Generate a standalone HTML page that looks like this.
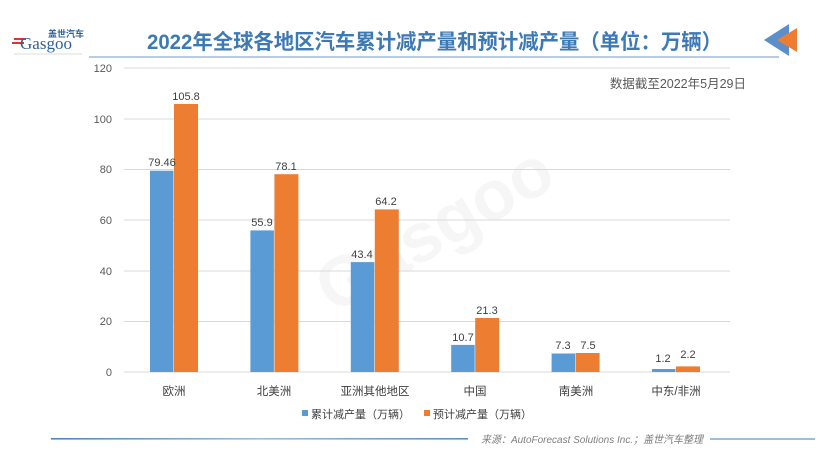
<!DOCTYPE html>
<html><head><meta charset="utf-8"><style>
body{margin:0;background:#fff;}
svg{display:block;font-family:"Liberation Sans","Noto Sans CJK SC",sans-serif;}
</style></head><body>
<svg width="820" height="461" viewBox="0 0 820 461" xmlns="http://www.w3.org/2000/svg">
<defs>
<linearGradient id="lg" x1="0" x2="1" y1="0" y2="0"><stop offset="0" stop-color="#4a86bd"/><stop offset="0.5" stop-color="#9dbcd8"/><stop offset="1" stop-color="#5b8fc4"/></linearGradient>
</defs>
<!-- logo -->
<text x="48" y="37" font-size="9" font-weight="bold" fill="#2f5f9a" font-family="Noto Sans CJK SC,sans-serif">盖世汽车</text>
<rect x="14" y="38" width="12" height="2" fill="#d33"/><rect x="12" y="42" width="12" height="2" fill="#d33"/>
<text x="20" y="49" font-size="17" fill="#2f5f9a" font-family="Liberation Serif,serif">Gasgoo</text>
<line x1="14" y1="54" x2="82" y2="54" stroke="#bbb" stroke-width="0.5"/>
<!-- title -->
<text x="147" y="49" textLength="575" lengthAdjust="spacingAndGlyphs" font-size="21" font-weight="bold" fill="#3d7ab5">2022年全球各地区汽车累计减产量和预计减产量（单位：万辆）</text>
<line x1="89" y1="57" x2="779" y2="57" stroke="#9dbcd8" stroke-width="1.5"/>
<polygon points="764,40 789,24 789,56" fill="#5b8fc9"/>
<polygon points="777,40 797,28 797,52" fill="#ee7d31"/>
<!-- watermark -->
<text x="300" y="270" font-size="70" fill="#000" opacity="0.03" transform="rotate(-30 400 230)" font-weight="bold">Gasgoo</text>
<!-- grid -->
<g stroke="#d9d9d9" stroke-width="1">
<line x1="124" y1="68" x2="730" y2="68"/><line x1="124" y1="119" x2="730" y2="119"/>
<line x1="124" y1="169.5" x2="730" y2="169.5"/><line x1="124" y1="220" x2="730" y2="220"/>
<line x1="124" y1="271" x2="730" y2="271"/><line x1="124" y1="321.5" x2="730" y2="321.5"/>
<line x1="124" y1="372" x2="730" y2="372"/>
</g>
<g font-size="11" fill="#595959" text-anchor="end">
<text x="112" y="72">120</text><text x="112" y="123">100</text><text x="112" y="173">80</text>
<text x="112" y="224">60</text><text x="112" y="275">40</text><text x="112" y="325">20</text><text x="112" y="376">0</text>
</g>
<text x="746" y="88" text-anchor="end" font-size="12.5" fill="#595959">数据截至2022年5月29日</text>
<!-- bars -->
<g fill="#5b9bd5">
<rect x="150" y="170.7" width="23.5" height="201.3"/>
<rect x="250.4" y="230.4" width="23.5" height="141.6"/>
<rect x="350.8" y="262.1" width="23.5" height="109.9"/>
<rect x="451.2" y="344.9" width="23.5" height="27.1"/>
<rect x="551.6" y="353.5" width="23.5" height="18.5"/>
<rect x="652" y="369" width="23.5" height="3"/>
</g>
<g fill="#ed7d31">
<rect x="174" y="104" width="24" height="268"/>
<rect x="274.4" y="174.2" width="24" height="197.8"/>
<rect x="374.8" y="209.4" width="24" height="162.6"/>
<rect x="475.2" y="318" width="24" height="54"/>
<rect x="575.6" y="353" width="24" height="19"/>
<rect x="676" y="366.4" width="24" height="5.6"/>
</g>
<g font-size="11" fill="#404040" text-anchor="middle">
<text x="162" y="166">79.46</text><text x="186" y="100">105.8</text>
<text x="262" y="226">55.9</text><text x="286" y="170">78.1</text>
<text x="362" y="258">43.4</text><text x="386" y="205">64.2</text>
<text x="463" y="341">10.7</text><text x="487" y="314">21.3</text>
<text x="563" y="349">7.3</text><text x="588" y="349">7.5</text>
<text x="663" y="362">1.2</text><text x="688" y="358">2.2</text>
</g>
<g font-size="11.5" fill="#404040" text-anchor="middle">
<text x="174" y="395">欧洲</text><text x="274" y="395">北美洲</text><text x="375" y="395">亚洲其他地区</text>
<text x="475" y="395">中国</text><text x="576" y="395">南美洲</text><text x="676" y="395">中东/非洲</text>
</g>
<!-- legend -->
<rect x="302" y="410" width="6" height="6" fill="#5b9bd5"/>
<text x="311" y="418" font-size="11" fill="#404040">累计减产量（万辆）</text>
<rect x="424" y="410" width="6" height="6" fill="#ed7d31"/>
<text x="433" y="418" font-size="11" fill="#404040">预计减产量（万辆）</text>
<!-- footer -->
<rect x="51" y="438" width="417" height="1.6" fill="url(#lg)"/>
<text x="481" y="443" textLength="222" lengthAdjust="spacingAndGlyphs" font-size="10.5" font-style="italic" fill="#7f7f7f">来源：AutoForecast Solutions Inc.；盖世汽车整理</text>
<line x1="710" y1="439" x2="815" y2="439" stroke="#7fa6cf" stroke-width="1.5"/>
</svg>
</body></html>
